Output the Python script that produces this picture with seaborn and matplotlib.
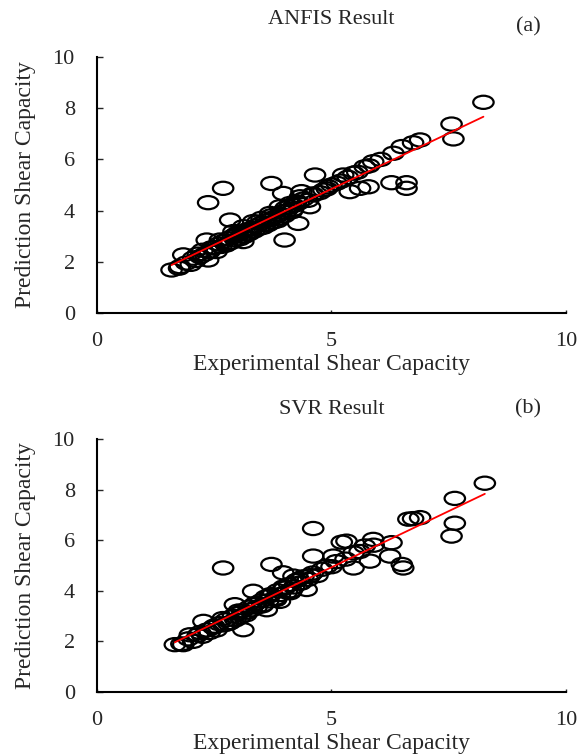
import numpy as np
import matplotlib
matplotlib.use("Agg")
import matplotlib.pyplot as plt
import seaborn as sns
from matplotlib.markers import MarkerStyle
from matplotlib.transforms import Affine2D

# ANFIS panel (a)
anfis_exp = [8.24, 7.56, 7.60, 6.74, 6.89, 6.32, 5.89, 5.71, 5.47, 5.25, 4.65, 3.72, 2.69, 2.37,
             6.28, 6.60, 6.60, 5.39, 5.61, 5.79, 4.93, 3.97, 4.36, 4.54, 4.29, 4.00, 2.84, 2.34,
             2.37, 1.84, 1.59, 1.77, 2.05, 3.12, 2.91, 3.12, 3.33, 3.51, 3.69, 3.90, 4.12, 4.33,
             4.61, 4.83, 5.11,
             1.75, 1.90, 2.00, 2.10, 2.20, 2.30, 2.25, 2.40, 2.50, 2.55, 2.60, 2.65, 2.70, 2.75,
             2.80, 2.85, 2.90, 2.95, 3.00, 3.05, 3.10, 3.15, 3.20, 3.25, 3.30, 3.35, 3.40, 3.45,
             3.50, 3.55, 3.60, 3.65, 3.70, 3.75, 3.80, 3.85, 3.90, 3.95, 4.00, 4.05, 4.10, 4.15,
             4.20, 4.30, 4.40, 4.50, 4.60, 4.75, 4.90, 5.00, 5.20, 5.35, 5.55, 5.80, 6.05, 6.50,
             2.15, 2.45, 2.62, 2.78, 2.98, 3.08, 3.28, 3.42, 3.58, 3.72, 3.88, 4.02, 4.18, 4.25]
anfis_pred = [8.23, 7.38, 6.80, 6.65, 6.76, 6.24, 5.91, 5.71, 5.46, 5.39, 5.39, 5.06, 4.87, 4.31,
              5.09, 5.09, 4.87, 4.74, 4.87, 4.93, 4.93, 4.67, 4.74, 4.15, 3.50, 2.85, 3.63, 2.85,
              2.07, 2.27, 1.68, 1.81, 2.14, 2.79, 3.18, 3.37, 3.57, 3.70, 3.89, 4.15, 4.28, 4.54,
              4.61, 4.80, 5.07,
              1.75, 1.95, 1.90, 2.05, 2.20, 2.30, 2.45, 2.40, 2.55, 2.40, 2.70, 2.60, 2.80, 2.65,
              2.90, 2.75, 3.00, 2.85, 3.05, 2.90, 3.15, 3.00, 3.25, 3.10, 3.30, 3.20, 3.40, 3.30,
              3.50, 3.35, 3.60, 3.45, 3.65, 3.55, 3.75, 3.60, 3.85, 3.95, 3.80, 4.00, 4.15, 3.95,
              4.20, 4.30, 4.45, 4.40, 4.65, 4.70, 4.85, 5.00, 5.15, 5.30, 5.50, 5.75, 6.00, 6.50,
              2.30, 2.55, 2.85, 2.70, 3.10, 3.00, 3.20, 3.55, 3.45, 3.80, 3.70, 4.10, 4.05, 4.35]

# SVR panel (b)
svr_exp = [8.27, 7.63, 7.63, 7.56, 6.74, 6.89, 6.64, 4.61, 5.22, 5.32, 5.89, 5.71, 6.28, 6.25,
           6.50, 6.53, 5.82, 5.47, 4.61, 5.04, 2.69, 3.72, 3.97, 4.19, 3.33, 4.47, 3.12, 3.62,
           2.94, 2.27, 1.98, 1.66, 1.84, 3.90, 4.12, 4.33, 4.90, 5.47,
           1.80, 1.95, 2.05, 2.15, 2.25, 2.35, 2.40, 2.50, 2.55, 2.60, 2.70, 2.75, 2.80, 2.90,
           2.95, 3.00, 3.05, 3.10, 3.20, 3.25, 3.30, 3.35, 3.40, 3.50, 3.55, 3.60, 3.65, 3.70,
           3.80, 3.85, 3.90, 4.00, 4.05, 4.10, 4.20, 4.25, 4.35, 4.40, 4.50, 4.60, 4.70, 4.80,
           5.00, 5.10, 5.30, 5.60, 5.90,
           2.20, 2.48, 2.68, 2.85, 3.02, 3.18, 3.38, 3.52, 3.68, 3.82, 3.98, 4.15, 4.30, 4.55]
svr_pred = [8.25, 7.65, 6.67, 6.16, 6.85, 6.89, 6.83, 6.46, 5.92, 5.96, 6.03, 5.77, 5.90, 5.37,
            5.04, 4.90, 5.17, 4.90, 5.37, 5.37, 4.90, 5.04, 4.71, 4.58, 3.98, 4.05, 2.46, 3.25,
            3.45, 2.79, 2.26, 1.87, 1.87, 3.58, 3.92, 4.31, 4.97, 5.50,
            1.90, 2.10, 2.00, 2.25, 2.20, 2.45, 2.35, 2.60, 2.45, 2.70, 2.65, 2.85, 2.70, 3.00,
            2.85, 3.10, 2.95, 3.20, 3.15, 3.35, 3.25, 3.45, 3.35, 3.60, 3.45, 3.75, 3.60, 3.85,
            3.70, 4.00, 3.85, 4.10, 3.95, 4.25, 4.15, 4.40, 4.30, 4.55, 4.45, 4.70, 4.60, 4.85,
            4.95, 5.15, 5.25, 5.55, 5.80,
            2.35, 2.55, 2.90, 2.75, 3.20, 3.05, 3.50, 3.40, 3.80, 3.65, 4.15, 4.00, 4.45, 4.60]

sns.set_style("white")
plt.rcParams['font.family'] = ['Liberation Serif', 'DejaVu Serif']
plt.rcParams['font.size'] = 16

fig = plt.figure(figsize=(5.79, 7.56), dpi=100)
ax1 = fig.add_axes([0.1675, 0.586, 0.81, 0.3386])
ax2 = fig.add_axes([0.1675, 0.0847, 0.81, 0.3347])

oval = MarkerStyle('o', transform=Affine2D().scale(1.55, 1.0))

panels = [(ax1, anfis_exp, anfis_pred, 'ANFIS Result', '(a)', 24),
          (ax2, svr_exp, svr_pred, 'SVR Result', '(b)', 18)]

for ax, xs, ys, title, tag, tpad in panels:
    sns.scatterplot(x=xs, y=ys, ax=ax, marker=oval, s=90, facecolors='none',
                    edgecolor='black', linewidth=1.6, zorder=3)
    sns.regplot(x=np.array(xs), y=np.array(ys), ax=ax, scatter=False, ci=None,
                truncate=True, line_kws={'color': 'red', 'linewidth': 1.3, 'zorder': 4})
    ax.set_xlim(0, 10)
    ax.set_ylim(0, 10)
    ax.set_xticks([0, 5, 10])
    ax.set_yticks([0, 2, 4, 6, 8, 10])
    for side in ['top', 'right']:
        ax.spines[side].set_visible(False)
    for side in ['left', 'bottom']:
        ax.spines[side].set_color('black')
        ax.spines[side].set_linewidth(1.5)
    ax.tick_params(axis='y', direction='in', length=4, width=1, pad=16, labelsize=16,
                   left=True)
    ax.tick_params(axis='x', direction='in', length=2, width=1, pad=14, labelsize=16,
                   bottom=True)
    ax.set_xlabel('Experimental Shear Capacity', fontsize=17, labelpad=2)
    ax.set_ylabel('Prediction Shear Capacity', fontsize=17, labelpad=12)
    ax.set_title(title, fontsize=16, pad=tpad)
    ax.text(0.92, 1.08, tag, transform=ax.transAxes, fontsize=16, ha='center', va='bottom')

fig.savefig('out.png', dpi=100)
